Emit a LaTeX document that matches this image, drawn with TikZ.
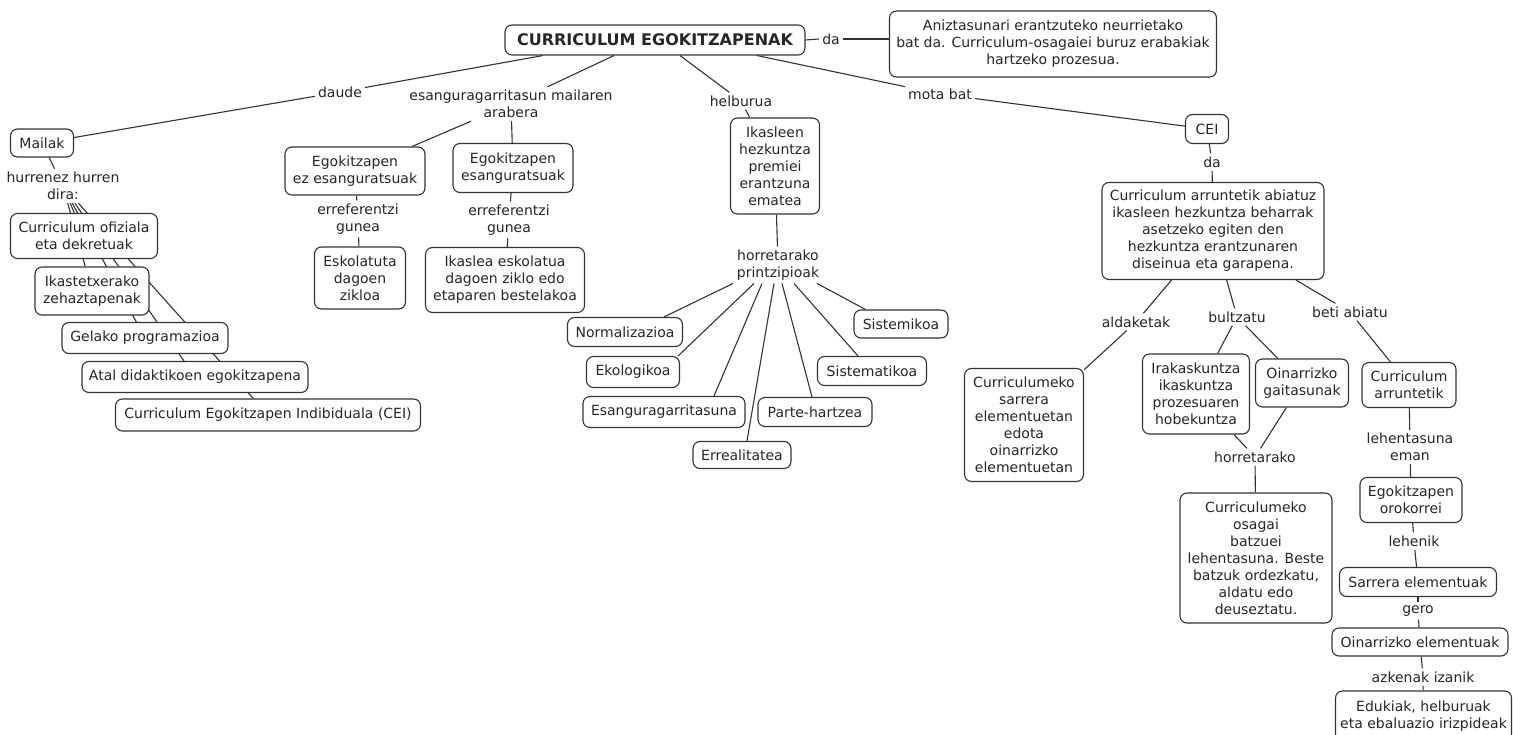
\documentclass[tikz,border=0pt]{standalone}
\usepackage{fontspec}
\setmainfont{DejaVu Sans}
\usetikzlibrary{calc}
\pgfdeclarelayer{canvas}
\pgfdeclarelayer{background}
\pgfsetlayers{canvas,background,main}
\begin{document}
\begin{tikzpicture}[x=1pt,y=-1pt,
  box/.style={draw=black!80, line width=1.1pt, rounded corners=7pt, fill=white, align=center, inner sep=2pt, text=black!85},
  lab/.style={align=center, inner sep=3pt, text=black!85},
  edge/.style={draw=black!80, line width=1.1pt},
  font=\fontsize{14}{17}\selectfont]
\begin{pgfonlayer}{canvas}
\fill[white] (0,0) rectangle (1513,735);
\end{pgfonlayer}
\useasboundingbox (0,0) rectangle (1513,735);

% top
\node[box, minimum width=300pt, minimum height=30pt, font=\fontsize{16}{19}\selectfont\bfseries] (root) at (655,40) {CURRICULUM EGOKITZAPENAK};
\node[lab] (da1) at (831,39) {da};
\node[box, minimum width=327pt, minimum height=66pt] (aniz) at (1053,44) {Aniztasunari erantzuteko neurrietako\\bat da. Curriculum-osagaiei buruz erabakiak\\hartzeko prozesua.};
\node[lab] (daude) at (340,92) {daude};
\node[lab] (esang) at (511,104) {esanguragarritasun mailaren\\arabera};
\node[lab] (helb) at (741,101) {helburua};
\node[lab] (mota) at (940,94) {mota bat};

% left branch
\node[box, minimum width=63pt, minimum height=28pt] (mailak) at (42,143) {Mailak};
\node[lab] (hurr) at (63,186) {hurrenez hurren\\dira:};
\node[box, minimum width=147pt, minimum height=45pt] (ofiz) at (84,236) {Curriculum ofiziala\\eta dekretuak};
\node[box, minimum width=114pt, minimum height=48pt] (ikast) at (92,291) {Ikastetxerako\\zehaztapenak};
\node[box, minimum width=166pt, minimum height=31pt] (gelako) at (145,338) {Gelako programazioa};
\node[box, minimum width=226pt, minimum height=31pt] (atal) at (195,377) {Atal didaktikoen egokitzapena};
\node[box, minimum width=305pt, minimum height=32pt] (ceil) at (268,415) {Curriculum Egokitzapen Indibiduala (CEI)};

% esanguragarritasun
\node[box, minimum width=140pt, minimum height=48pt] (egoez) at (355,171) {Egokitzapen\\ez esanguratsuak};
\node[lab] (err1) at (358,219) {erreferentzi\\gunea};
\node[box, minimum width=91pt, minimum height=62pt] (eskol) at (360,278) {Eskolatuta\\dagoen\\zikloa};
\node[box, minimum width=120pt, minimum height=49pt] (egoes) at (513,168) {Egokitzapen\\esanguratsuak};
\node[lab] (err2) at (509,220) {erreferentzi\\gunea};
\node[box, minimum width=159pt, minimum height=65pt] (ikaslea) at (505,280) {Ikaslea eskolatua\\dagoen ziklo edo\\etaparen bestelakoa};

% helburua
\node[box, minimum width=89pt, minimum height=96pt] (ikasleen) at (775,166) {Ikasleen\\hezkuntza\\premiei\\erantzuna\\ematea};
\node[lab] (horr1) at (778,265) {horretarako\\printzipioak};
\node[box, minimum width=115pt, minimum height=29pt] (normal) at (625,332) {Normalizazioa};
\node[box, minimum width=93pt, minimum height=31pt] (ekolo) at (633,372) {Ekologikoa};
\node[box, minimum width=162pt, minimum height=31pt] (esangur) at (664,412) {Esanguragarritasuna};
\node[box, minimum width=98pt, minimum height=27pt] (erreal) at (742,455) {Errealitatea};
\node[box, minimum width=114pt, minimum height=29pt] (parte) at (815,412) {Parte-hartzea};
\node[box, minimum width=109pt, minimum height=29pt] (sistemat) at (872,371) {Sistematikoa};
\node[box, minimum width=94pt, minimum height=28pt] (sistemik) at (901,324) {Sistemikoa};

% CEI branch
\node[box, minimum width=43pt, minimum height=29pt] (cei) at (1207,129) {CEI};
\node[lab] (da2) at (1212,162) {da};
\node[box, minimum width=222pt, minimum height=97pt] (big) at (1213,231) {Curriculum arruntetik abiatuz\\ikasleen hezkuntza beharrak\\asetzeko egiten den\\hezkuntza erantzunaren\\diseinua eta garapena.};
\node[lab] (alda) at (1136,322) {aldaketak};
\node[lab] (bult) at (1237,317) {bultzatu};
\node[lab] (beti) at (1350,312) {beti abiatu};
\node[box, minimum width=119pt, minimum height=113pt] (currsar) at (1024,425) {Curriculumeko\\sarrera\\elementuetan\\edota\\oinarrizko\\elementuetan};
\node[box, minimum width=107pt, minimum height=80pt] (irakas) at (1196,394) {Irakaskuntza\\ikaskuntza\\prozesuaren\\hobekuntza};
\node[box, minimum width=93pt, minimum height=48pt] (oinarg) at (1302,383) {Oinarrizko\\gaitasunak};
\node[box, minimum width=94pt, minimum height=45pt] (currarr) at (1409,385) {Curriculum\\arruntetik};
\node[lab] (horr2) at (1255,457) {horretarako};
\node[box, minimum width=152pt, minimum height=130pt] (osagai) at (1256,558) {Curriculumeko\\osagai\\batzuei\\lehentasuna. Beste\\batzuk ordezkatu,\\aldatu edo\\deuseztatu.};
\node[lab] (lehent) at (1410,447) {lehentasuna\\eman};
\node[box, minimum width=102pt, minimum height=45pt] (egoor) at (1411,500) {Egokitzapen\\orokorrei};
\node[lab] (lehenik) at (1414,541) {lehenik};
\node[box, minimum width=157pt, minimum height=29pt] (sarrera) at (1418,582) {Sarrera elementuak};
\node[lab] (gero) at (1418,611) {gero};
\node[box, minimum width=176pt, minimum height=28pt] (oinel) at (1420,642) {Oinarrizko elementuak};
\node[lab] (azken) at (1423,677) {azkenak izanik};
\node[box, minimum width=176pt, minimum height=50pt] (eduk) at (1423.5,716) {Edukiak, helburuak\\eta ebaluazio irizpideak};

\begin{pgfonlayer}{background}
\draw[edge] (root.east) -- (da1.west);
\draw[edge] (da1.east) -- (da1.east -| aniz.west);
\draw[edge] ([xshift=-112pt]root.south) -- (daude);
\draw[edge] (daude) -- (mailak);
\draw[edge] ([xshift=-41pt]root.south) -- (esang);
\draw[edge] ([xshift=25pt]root.south) -- (helb);
\draw[edge] ([xshift=102pt]root.south) -- (mota);
\draw[edge] (mota) -- (cei);
\draw[edge] (mailak) -- (hurr);
\foreach \t in {ofiz,ikast,gelako,atal,ceil} \draw[edge] (hurr) -- (\t);
\draw[edge] (esang) -- (egoez);
\draw[edge] (esang) -- (egoes);
\draw[edge] (egoez) -- (err1);
\draw[edge] (err1) -- (eskol);
\draw[edge] (egoes) -- (err2);
\draw[edge] (err2) -- (ikaslea);
\draw[edge] (helb) -- (ikasleen);
\draw[edge] (ikasleen) -- (horr1);
\draw[edge] ([xshift=-45pt]horr1.south) -- ([xshift=39pt]normal.north);
\draw[edge] ([xshift=-24pt]horr1.south) -- ([xshift=-2pt]ekolo.north east);
\draw[edge] ([xshift=-16pt]horr1.south) -- ([xshift=50pt]esangur.north);
\draw[edge] ([xshift=-4pt]horr1.south) -- ([xshift=5pt]erreal.north);
\draw[edge] ([xshift=4pt]horr1.south) -- ([xshift=-3pt]parte.north);
\draw[edge] ([xshift=16pt]horr1.south) -- ([xshift=-14pt]sistemat.north);
\draw[edge] ([xshift=39pt]horr1.south) -- ([xshift=12pt]sistemik.north west);
\draw[edge] (cei) -- (da2);
\draw[edge] (da2) -- (big);
\draw[edge] (big) -- (alda);
\draw[edge] (big) -- (bult);
\draw[edge] (big) -- (beti);
\draw[edge] (alda) -- (currsar);
\draw[edge] (bult) -- (irakas);
\draw[edge] (bult) -- (oinarg);
\draw[edge] (beti) -- (currarr);
\draw[edge] (irakas) -- (horr2);
\draw[edge] (oinarg) -- (horr2);
\draw[edge] (horr2) -- (osagai);
\draw[edge] (currarr) -- (lehent);
\draw[edge] (lehent) -- (egoor);
\draw[edge] (egoor) -- (lehenik);
\draw[edge] (lehenik) -- (sarrera);
\draw[edge] (sarrera) -- (gero);
\draw[edge] (gero) -- (oinel);
\draw[edge] (oinel) -- (azken);
\draw[edge] (azken) -- (eduk);
\end{pgfonlayer}
\end{tikzpicture}
\end{document}
